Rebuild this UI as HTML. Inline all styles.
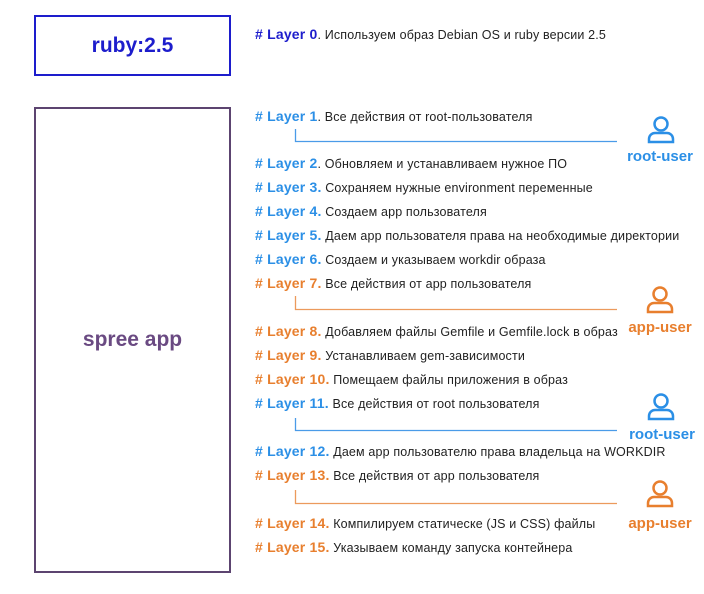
<!DOCTYPE html>
<html><head><meta charset="utf-8"><style>
body{margin:0;width:704px;height:594px;background:#fff;position:relative;font-family:"Liberation Sans",sans-serif;overflow:hidden}
.box{position:absolute;box-sizing:border-box;display:flex;align-items:center;justify-content:center;font-weight:bold}
.row{position:absolute;left:255px;font-size:12.5px;letter-spacing:0.15px;color:#222;white-space:nowrap;line-height:16px}
.row b{font-size:14px;letter-spacing:0.2px}
.b b{color:#2b8fe6}.o b{color:#e87f2e}
.lbl{position:absolute;font-weight:bold;font-size:15px;width:90px;text-align:center}
</style></head><body>
<div class="box" style="left:34px;top:15px;width:197px;height:61px;border:2px solid #1d1dcc;color:#1d1dcc;font-size:21px">ruby:2.5</div>
<div class="box" style="left:34px;top:107px;width:197px;height:466px;border:2px solid #5c4470;color:#6a4a82;font-size:21px">spree app</div>

<div class="row" style="top:26px;color:#222"><b style="color:#1d1dcc"># Layer 0</b>. Используем образ Debian OS и ruby версии 2.5</div>
<div class="row b" style="top:108px"><b># Layer 1</b>. Все действия от root-пользователя</div>
<div class="row b" style="top:155px"><b># Layer 2</b>. Обновляем и устанавливаем нужное ПО</div>
<div class="row b" style="top:179px"><b># Layer 3.</b> Сохраняем нужные environment переменные</div>
<div class="row b" style="top:203px"><b># Layer 4.</b> Создаем app пользователя</div>
<div class="row b" style="top:227px"><b># Layer 5.</b> Даем app пользователя права на необходимые директории</div>
<div class="row b" style="top:251px"><b># Layer 6.</b> Создаем и указываем workdir образа</div>
<div class="row o" style="top:275px"><b># Layer 7.</b> Все действия от app пользователя</div>
<div class="row o" style="top:323px"><b># Layer 8.</b> Добавляем файлы Gemfile и Gemfile.lock в образ</div>
<div class="row o" style="top:347px"><b># Layer 9.</b> Устанавливаем gem-зависимости</div>
<div class="row o" style="top:371px"><b># Layer 10.</b> Помещаем файлы приложения в образ</div>
<div class="row b" style="top:395px"><b># Layer 11.</b> Все действия от root пользователя</div>
<div class="row b" style="top:443px"><b># Layer 12.</b> Даем app пользователю права владельца на WORKDIR</div>
<div class="row o" style="top:467px"><b># Layer 13.</b> Все действия от app пользователя</div>
<div class="row o" style="top:515px"><b># Layer 14.</b> Компилируем статичеcке (JS и CSS) файлы</div>
<div class="row o" style="top:539px"><b># Layer 15.</b> Указываем команду запуска контейнера</div>

<svg width="704" height="594" style="position:absolute;left:0;top:0" fill="none" stroke-width="1.3">
<g stroke="#4a9be8"><path d="M295.5 129V141.5H617"/><path d="M295.5 418V430.5H617"/></g>
<g stroke="#ec9a5c"><path d="M295.5 296V309.5H617"/><path d="M295.5 490V503.5H617"/></g>
<g stroke="#2b8fe6" stroke-width="2.5">
<circle cx="661" cy="124" r="6.5"/><path d="M649 142v-3a6 6 0 0 1 6-6h12a6 6 0 0 1 6 6v3z"/>
<circle cx="661" cy="401" r="6.5"/><path d="M649 419v-3a6 6 0 0 1 6-6h12a6 6 0 0 1 6 6v3z"/>
</g>
<g stroke="#e87f2e" stroke-width="2.5">
<circle cx="660" cy="294" r="6.5"/><path d="M648 312v-3a6 6 0 0 1 6-6h12a6 6 0 0 1 6 6v3z"/>
<circle cx="660" cy="488" r="6.5"/><path d="M648 506v-3a6 6 0 0 1 6-6h12a6 6 0 0 1 6 6v3z"/>
</g>
</svg>
<div class="lbl" style="left:615px;top:148px;color:#2b8fe6">root-user</div>
<div class="lbl" style="left:615px;top:319px;color:#e87f2e">app-user</div>
<div class="lbl" style="left:617px;top:426px;color:#2b8fe6">root-user</div>
<div class="lbl" style="left:615px;top:515px;color:#e87f2e">app-user</div>
</body></html>
